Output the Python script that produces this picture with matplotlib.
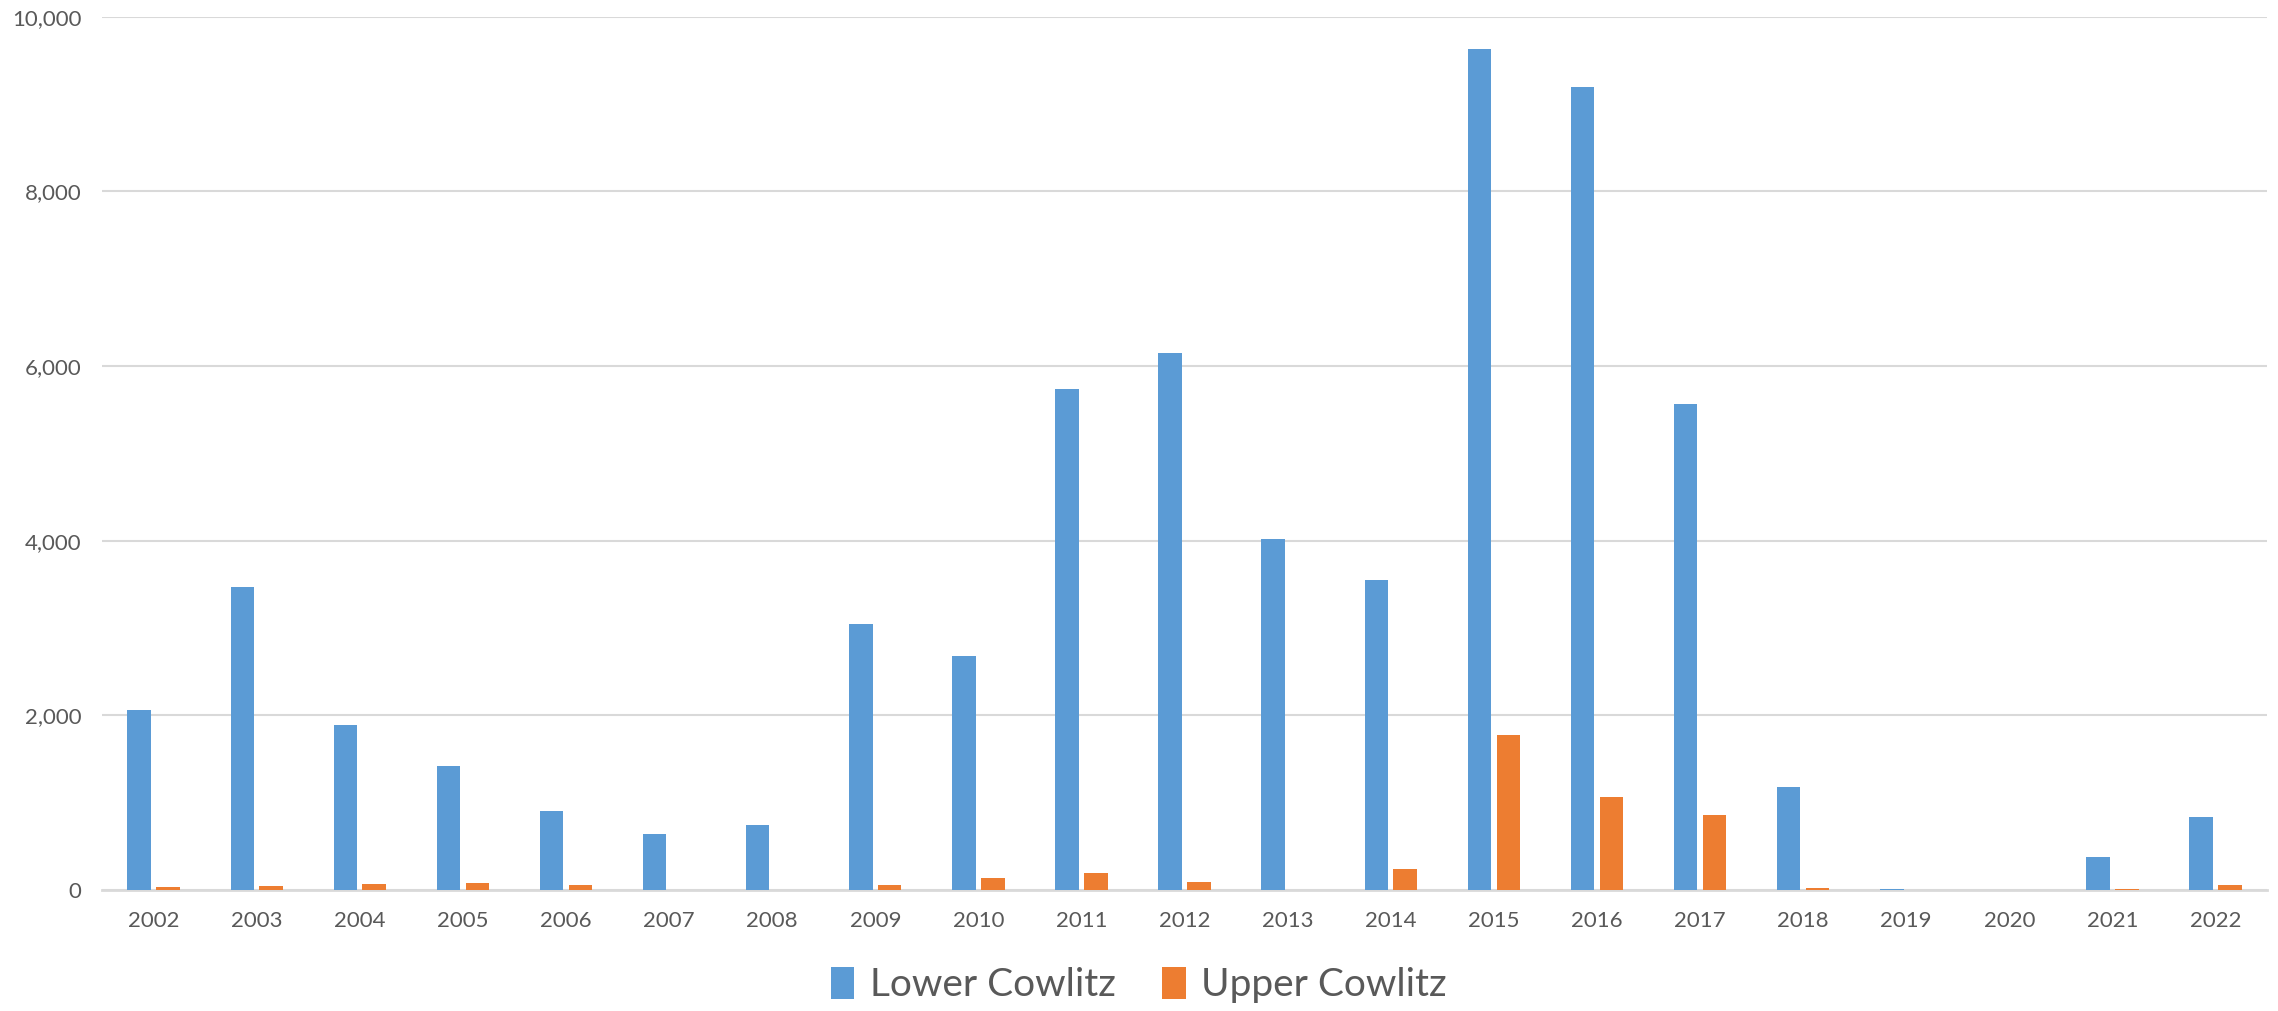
import matplotlib.pyplot as plt
import numpy as np
from matplotlib.ticker import FuncFormatter

years = [str(y) for y in range(2002, 2023)]
lower_cowlitz = [2060, 3470, 1890, 1420, 910, 645, 745, 3040, 2675, 5735,
                 6150, 4020, 3555, 9630, 9200, 5570, 1180, 10, 0, 380, 830]
upper_cowlitz = [30, 42, 65, 76, 53, 3, 3, 61, 141, 198,
                 88, 5, 236, 1775, 1060, 860, 23, 5, 0, 8, 61]

plt.rcParams['font.family'] = ['Lato', 'DejaVu Sans']

fig = plt.figure(figsize=(22.78, 10.11), dpi=100)
ax = fig.add_axes([0.0448, 0.1197, 0.9504, 0.8638])

x = np.arange(len(years))
w = 0.228
ax.bar(x - 0.14, lower_cowlitz, width=w, color='#5B9BD5', label='Lower Cowlitz', zorder=3)
ax.bar(x + 0.14, upper_cowlitz, width=w, color='#ED7D31', label='Upper Cowlitz', zorder=3)

ax.set_xlim(-0.5, len(years) - 0.5)
ax.set_ylim(0, 10000)
ax.set_yticks(range(0, 10001, 2000))
ax.yaxis.set_major_formatter(FuncFormatter(lambda v, p: f'{int(v):,}'))
ax.set_xticks(x)
ax.set_xticklabels(years)

ax.grid(axis='y', color='#d9d9d9', linewidth=1.5, zorder=0)
for s in ['top', 'right', 'left']:
    ax.spines[s].set_visible(False)
ax.spines['bottom'].set_color('#d9d9d9')
ax.spines['bottom'].set_linewidth(2)
ax.tick_params(axis='both', length=0, colors='#595959', labelsize=16)
ax.tick_params(axis='y', pad=15)
ax.tick_params(axis='x', pad=15)

leg = fig.legend(loc='center', bbox_to_anchor=(0.5, 1 - 985 / 1011), ncol=2,
                 frameon=False, fontsize=28, handlelength=0.6, handleheight=0.9,
                 columnspacing=1.2, handletextpad=0.4)
for t in leg.get_texts():
    t.set_color('#595959')

fig.savefig('out.png', dpi=100)
